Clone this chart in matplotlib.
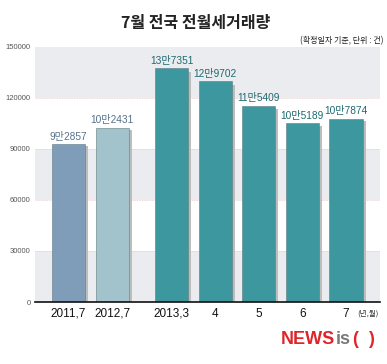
import matplotlib
matplotlib.use("Agg")
import matplotlib.pyplot as plt
from matplotlib import font_manager

plt.rcParams['font.family'] = ['Noto Sans CJK KR', 'DejaVu Sans']
names = {f.name for f in font_manager.fontManager.ttflist}
narrow = ['Liberation Sans Narrow', 'Noto Sans CJK KR', 'DejaVu Sans'] \
    if 'Liberation Sans Narrow' in names else ['Liberation Sans', 'Noto Sans CJK KR', 'DejaVu Sans']

# data
categories = ["2011,7", "2012,7", "2013,3", "4", "5", "6", "7"]
values = [92857, 102431, 137351, 129702, 115409, 105189, 107874]
value_labels = ["9만2857", "10만2431", "13만7351", "12만9702", "11만5409", "10만5189", "10만7874"]
positions = [0, 1, 2.36, 3.36, 4.36, 5.36, 6.36]
yticks = [0, 30000, 60000, 90000, 120000, 150000]

bar_colors = ["#7f9db8", "#a2c3cb"] + ["#3c989e"] * 5
label_colors = ["#56728a", "#56728a"] + ["#1d6a70"] * 5

fig = plt.figure(figsize=(3.87, 3.64), dpi=100)
ax = fig.add_axes([0.0904, 0.1703, 0.8916, 0.7008])

# background bands
for lo, hi in [(0, 30000), (60000, 90000), (120000, 150000)]:
    ax.axhspan(lo, hi, color="#ebecef", zorder=0, lw=0)
for y in [30000, 60000, 90000, 120000]:
    ax.axhline(y, color="#ecc8c8", lw=0.6, ls=(0, (1, 1)), zorder=0.5)

width = 0.76
# shadows
ax.bar([p + width / 2 + 0.035 for p in positions], [v * 0.985 for v in values],
       width=0.07, color="#bdbdbd", zorder=1)
ax.bar(positions, values, width=width, color=bar_colors, edgecolor="#5d7a80",
       linewidth=0.4, zorder=2)

for p, v, lab, c in zip(positions, values, value_labels, label_colors):
    ax.text(p, v + 1500, lab, ha="center", va="bottom", fontsize=7.3,
            color=c, zorder=3, family=narrow)

ax.set_xlim(-0.77, 7.14)
ax.set_ylim(0, 150000)
ax.set_yticks(yticks)
ax.set_yticklabels([str(t) for t in yticks], fontsize=5.5, color="#555555",
                   family=narrow)
ax.set_xticks(positions)
ax.set_xticklabels(categories, fontsize=8.5, color="#111111", family=narrow)
ax.tick_params(axis="both", length=0, pad=3)
ax.tick_params(axis="x", pad=4)
for s in ["top", "right", "left"]:
    ax.spines[s].set_visible(False)
ax.spines["bottom"].set_color("#111111")
ax.spines["bottom"].set_linewidth(1.2)

fig.text(0.505, 0.937, "7월 전국 전월세거래량", ha="center", va="center",
         fontsize=11.5, fontweight="bold", color="#222222")
fig.text(0.99, 0.888, "(확정일자 기준, 단위 : 건)", ha="right", va="center",
         fontsize=5.8, color="#222222")
fig.text(0.978, 0.138, "(년,월)", ha="right", va="center", fontsize=5.5, color="#333333")

# watermark, pieces laid out one after another
renderer = fig.canvas.get_renderer()
x = 0.725
for piece, col in [("NEWS", "#e0242b"), ("is", "#7a7a7a"), ("(", "#e0242b"),
                   ("  )", "#e0242b")]:
    t = fig.text(x, 0.068, piece, ha="left", va="center", fontsize=13,
                 fontweight="bold", color=col, family=narrow)
    bb = t.get_window_extent(renderer)
    x += bb.width / fig.bbox.width + 0.003

fig.savefig("out.png", dpi=100)
